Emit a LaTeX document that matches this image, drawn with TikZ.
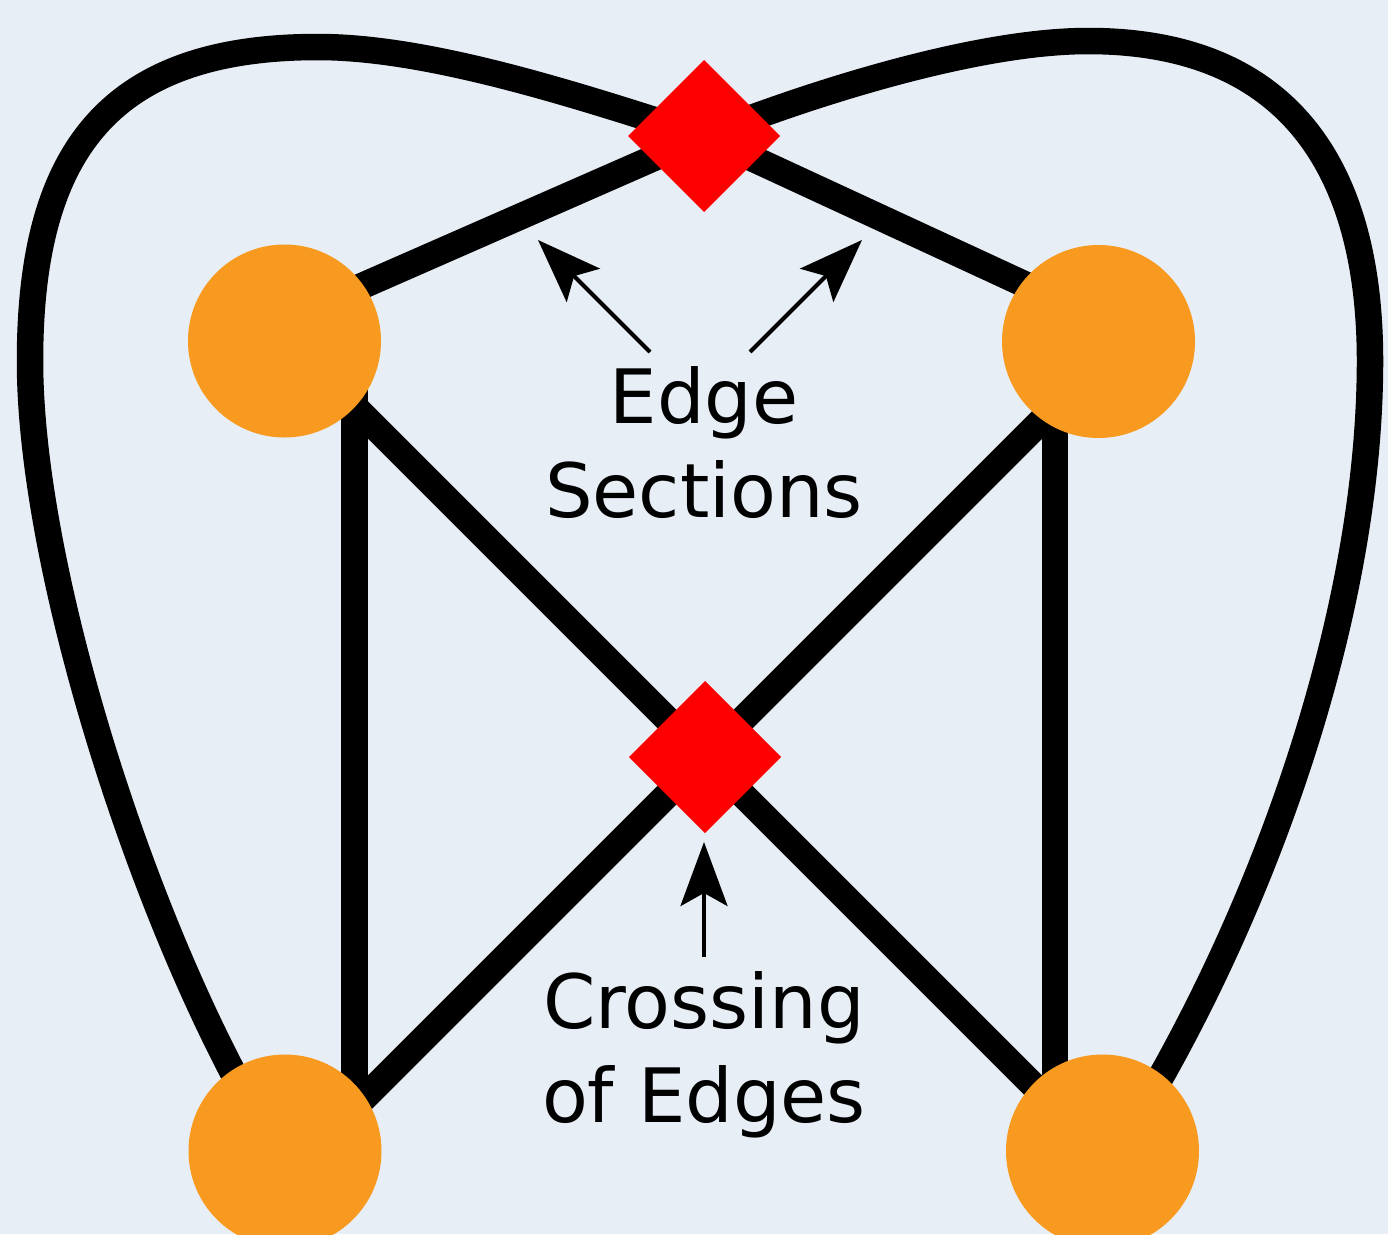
\documentclass[tikz,border=0pt]{standalone}
\usepackage{fontspec}
\setmainfont{DejaVu Sans}
\usetikzlibrary{shapes.geometric,arrows.meta}
\pgfdeclarelayer{bg}
\pgfdeclarelayer{edges}
\pgfsetlayers{bg,edges,main}
\definecolor{bgc}{RGB}{232,238,245}
\definecolor{vorange}{RGB}{248,153,32}
\definecolor{dred}{RGB}{255,0,0}
\begin{document}
\begin{tikzpicture}[x=1pt,y=-1pt,
  vnode/.style={circle,fill=vorange,minimum size=193pt,inner sep=0pt,outer sep=0pt},
  bendpt/.style={diamond,fill=dred,minimum width=152pt,minimum height=152pt,inner sep=0pt,outer sep=0pt},
  graphedge/.style={line width=26.5pt,black},
  ptrarrow/.style={line width=4pt,black,-{Stealth[length=64pt,width=47pt,inset=13pt]}},
  lbl/.style={font=\fontsize{75}{94}\selectfont,align=center,inner sep=0pt}]
\begin{pgfonlayer}{bg}
\fill[bgc] (0,0) rectangle (1388,1234);
\end{pgfonlayer}
\useasboundingbox (0,0) rectangle (1388,1234);
% nodes
\node[vnode] (tl) at (284.5,341) {};
\node[vnode] (tr) at (1098.5,341.5) {};
\node[vnode] (bl) at (285,1151) {};
\node[vnode] (br) at (1102.5,1151) {};
\node[bendpt] (d1) at (704,136) {};
\node[bendpt] (d2) at (705,757) {};
% edges
\begin{pgfonlayer}{edges}
\draw[graphedge] ([yshift=21pt]tl.center) -- (d1.center)
  .. controls (820,90) and (980,41) .. (1088,41)
  .. controls (1290,41) and (1370,170) .. (1370,361)
  .. controls (1370,600) and (1275,880) .. ([xshift=48pt,yshift=56pt]br.center);
\draw[graphedge] ([xshift=-40pt,yshift=56pt]bl.center)
  .. controls (133,891) and (30,560) .. (30,361)
  .. controls (30,150) and (110,47) .. (318,47)
  .. controls (430,47) and (580,96) .. (d1.center) -- ([yshift=23pt]tr.center);
\draw[graphedge] ([xshift=70pt]tl.center) -- ([xshift=69.5pt]bl.center);
\draw[graphedge] ([xshift=-43.5pt]tr.center) -- ([xshift=-47.5pt]br.center);
\draw[graphedge] ([xshift=15.5pt,yshift=-11pt]tl.center) -- (d2.center) -- ([xshift=-12.5pt,yshift=9pt]br.center);
\draw[graphedge] ([xshift=-18.5pt,yshift=-40.5pt]tr.center) -- (d2.center) -- ([xshift=35pt,yshift=9pt]bl.center);
\end{pgfonlayer}
% labels (base anchor = baseline of the last line)
\node[lbl,anchor=base] (t1) at (704,517) {Edge\\Sections};
\node[lbl,anchor=base] (t2) at (704,1122) {Crossing\\of Edges};
% arrows
\coordinate (a1s) at (650,352);
\coordinate (a1e) at (538,240);
\coordinate (a2s) at (750,352);
\coordinate (a2e) at (862,240);
\coordinate (a3s) at (704,957);
\coordinate (a3e) at (704,842);
\draw[ptrarrow] (a1s) -- (a1e);
\draw[ptrarrow] (a2s) -- (a2e);
\draw[ptrarrow] (a3s) -- (a3e);
\end{tikzpicture}
\end{document}
